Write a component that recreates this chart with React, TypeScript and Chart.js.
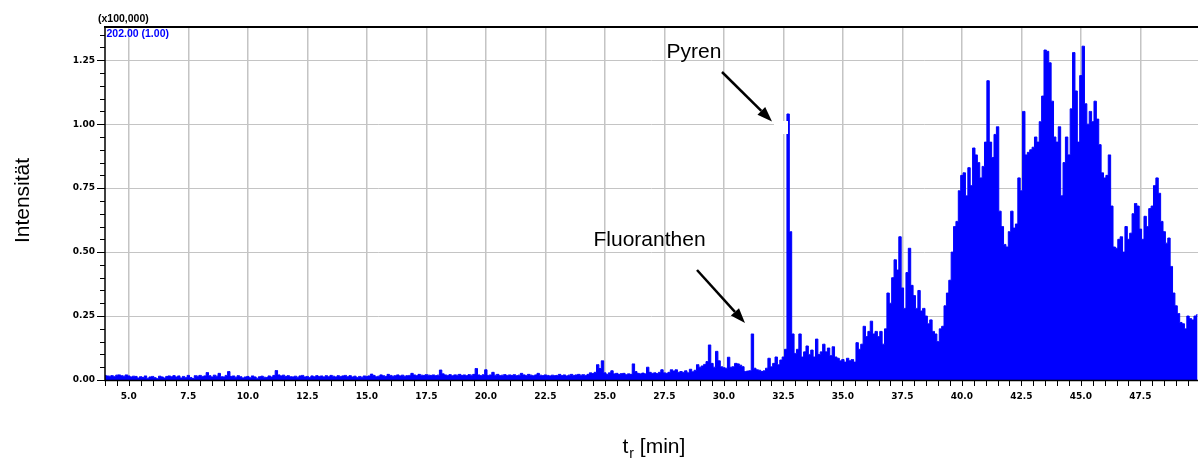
import React, { useEffect, useRef } from "react";
import { Chart, registerables } from "chart.js";

Chart.register(...registerables);

// ---- sampling of the trace (retention time in minutes) ----
const START_MIN = 4.0;
const STEP_MIN = 0.1;
const X_MIN = 4.0;
const X_MAX = 49.92;
const Y_MIN = 0;
const Y_MAX = 1.38;

// ---- intensities (x100,000), one row per minute, 0.1 min apart ----
const intensity04to09 = [
  0.018, 0.016, 0.015, 0.017, 0.014, 0.019, 0.020, 0.017, 0.015, 0.020,
  0.016, 0.012, 0.015, 0.014, 0.008, 0.013, 0.010, 0.016, 0.007, 0.012,
  0.014, 0.009, 0.006, 0.015, 0.012, 0.008, 0.014, 0.016, 0.013, 0.017,
  0.012, 0.016, 0.008, 0.014, 0.009, 0.018, 0.010, 0.006, 0.017, 0.015,
  0.018, 0.014, 0.016, 0.029, 0.017, 0.012, 0.019, 0.015, 0.026, 0.013,
  0.012, 0.018, 0.033, 0.014, 0.016, 0.011, 0.017, 0.013, 0.008, 0.012,
];
const intensity10to15 = [
  0.014, 0.009, 0.016, 0.012, 0.007, 0.013, 0.015, 0.011, 0.010, 0.016,
  0.012, 0.018, 0.037, 0.020, 0.016, 0.019, 0.014, 0.017, 0.013, 0.012,
  0.015, 0.011, 0.016, 0.018, 0.012, 0.014, 0.010, 0.016, 0.013, 0.017,
  0.014, 0.016, 0.012, 0.017, 0.013, 0.018, 0.015, 0.012, 0.017, 0.014,
  0.016, 0.018, 0.013, 0.017, 0.012, 0.015, 0.010, 0.014, 0.011, 0.016,
  0.014, 0.016, 0.023, 0.018, 0.013, 0.015, 0.020, 0.017, 0.014, 0.022,
];
const intensity16to21 = [
  0.018, 0.015, 0.017, 0.020, 0.016, 0.019, 0.015, 0.017, 0.018, 0.026,
  0.020, 0.017, 0.022, 0.019, 0.018, 0.021, 0.019, 0.018, 0.020, 0.017,
  0.019, 0.039, 0.024, 0.020, 0.018, 0.021, 0.017, 0.020, 0.019, 0.022,
  0.018, 0.020, 0.017, 0.021, 0.019, 0.022, 0.045, 0.020, 0.017, 0.021,
  0.040, 0.018, 0.020, 0.030, 0.019, 0.022, 0.017, 0.019, 0.021, 0.018,
  0.020, 0.018, 0.021, 0.017, 0.019, 0.026, 0.020, 0.018, 0.022, 0.019,
];
const intensity22to27 = [
  0.017, 0.020, 0.026, 0.019, 0.017, 0.020, 0.018, 0.016, 0.019, 0.017,
  0.018, 0.022, 0.017, 0.020, 0.016, 0.019, 0.022, 0.018, 0.020, 0.022,
  0.019, 0.021, 0.018, 0.022, 0.028, 0.025, 0.030, 0.060, 0.045, 0.075,
  0.028, 0.022, 0.028, 0.036, 0.024, 0.026, 0.022, 0.025, 0.026, 0.021,
  0.024, 0.022, 0.063, 0.033, 0.026, 0.024, 0.027, 0.024, 0.050, 0.030,
  0.026, 0.028, 0.025, 0.030, 0.040, 0.028, 0.026, 0.030, 0.040, 0.035,
];
const intensity28to33 = [
  0.040, 0.030, 0.033, 0.030, 0.036, 0.028, 0.042, 0.032, 0.038, 0.060,
  0.050, 0.055, 0.061, 0.072, 0.137, 0.065, 0.050, 0.112, 0.075, 0.052,
  0.048, 0.046, 0.089, 0.050, 0.052, 0.065, 0.063, 0.058, 0.052, 0.033,
  0.035, 0.036, 0.180, 0.046, 0.040, 0.038, 0.033, 0.036, 0.046, 0.085,
  0.052, 0.065, 0.090, 0.060, 0.078, 0.090, 0.120, 1.040, 0.580, 0.180,
  0.104, 0.120, 0.180, 0.090, 0.110, 0.133, 0.100, 0.117, 0.090, 0.160,
];
const intensity34to39 = [
  0.100, 0.110, 0.140, 0.110, 0.125, 0.095, 0.130, 0.090, 0.085, 0.075,
  0.080, 0.070, 0.085, 0.075, 0.080, 0.070, 0.146, 0.120, 0.140, 0.210,
  0.170, 0.190, 0.230, 0.180, 0.190, 0.170, 0.190, 0.140, 0.200, 0.340,
  0.300, 0.400, 0.470, 0.430, 0.560, 0.360, 0.280, 0.420, 0.515, 0.370,
  0.330, 0.280, 0.350, 0.270, 0.280, 0.250, 0.220, 0.235, 0.190, 0.180,
  0.150, 0.200, 0.210, 0.290, 0.340, 0.390, 0.500, 0.600, 0.620, 0.740,
];
const intensity40to45 = [
  0.800, 0.810, 0.720, 0.830, 0.760, 0.907, 0.880, 0.850, 0.790, 0.835,
  0.930, 1.170, 0.930, 0.870, 0.960, 0.990, 0.660, 0.600, 0.530, 0.520,
  0.580, 0.660, 0.594, 0.610, 0.790, 0.740, 1.050, 0.880, 0.890, 0.900,
  0.910, 0.950, 0.930, 1.010, 1.110, 1.290, 1.285, 1.240, 1.090, 0.950,
  0.930, 0.990, 0.720, 0.850, 0.950, 0.880, 1.060, 1.280, 1.130, 0.930,
  1.190, 1.305, 1.080, 1.000, 1.050, 1.010, 1.090, 1.020, 0.920, 0.810,
];
const intensity46to49 = [
  0.790, 0.800, 0.880, 0.680, 0.520, 0.515, 0.550, 0.560, 0.500, 0.600,
  0.550, 0.574, 0.650, 0.690, 0.680, 0.590, 0.550, 0.640, 0.600, 0.670,
  0.680, 0.760, 0.790, 0.730, 0.620, 0.580, 0.535, 0.555, 0.444, 0.340,
  0.290, 0.260, 0.225, 0.220, 0.200, 0.250, 0.240, 0.235, 0.250, 0.255,
];

// ---- axis ticks and labels ----
const X_TICKS = [5.0, 7.5, 10.0, 12.5, 15.0, 17.5, 20.0, 22.5, 25.0, 27.5, 30.0, 32.5, 35.0, 37.5, 40.0, 42.5, 45.0, 47.5];
const Y_TICKS = [0, 0.25, 0.5, 0.75, 1.0, 1.25];
const X_MINOR_STEP = 0.5;
const Y_MINOR_STEP = 0.05;

const X_TITLE_MAIN = "t";
const X_TITLE_SUB = "r";
const X_TITLE_REST = " [min]";
const Y_TITLE = "Intensität";
const SCALE_NOTE = "(x100,000)";
const TRACE_NOTE = "202.00 (1.00)";
const ANNOTATIONS = [
  { text: "Pyren", tx: 666.5, ty: 58, x1: 722, y1: 72, x2: 772, y2: 121.5 },
  { text: "Fluoranthen", tx: 593.5, ty: 246, x1: 697, y1: 270, x2: 745, y2: 323 },
];

const SANS = '"Liberation Sans", Arial, sans-serif';
const TICK_FONT = '"DejaVu Sans", Verdana, sans-serif';
const BLUE = "#0000ff";
const GRID = "#c4c4c4";

const allIntensity = [
  ...intensity04to09,
  ...intensity10to15,
  ...intensity16to21,
  ...intensity22to27,
  ...intensity28to33,
  ...intensity34to39,
  ...intensity40to45,
  ...intensity46to49,
];
const tracePoints = allIntensity.map((v, i) => ({
  x: Math.round((START_MIN + i * STEP_MIN) * 100) / 100,
  y: v,
}));

function drawArrow(ctx: CanvasRenderingContext2D, x1: number, y1: number, x2: number, y2: number) {
  const ang = Math.atan2(y2 - y1, x2 - x1);
  const headLen = 15;
  const headHalf = 5.5;
  const bx = x2 - headLen * Math.cos(ang);
  const by = y2 - headLen * Math.sin(ang);
  ctx.strokeStyle = "#000";
  ctx.fillStyle = "#000";
  ctx.lineWidth = 2.5;
  ctx.lineCap = "butt";
  ctx.beginPath();
  ctx.moveTo(x1, y1);
  ctx.lineTo(bx, by);
  ctx.stroke();
  ctx.beginPath();
  ctx.moveTo(x2, y2);
  ctx.lineTo(bx + headHalf * Math.sin(ang), by - headHalf * Math.cos(ang));
  ctx.lineTo(bx - headHalf * Math.sin(ang), by + headHalf * Math.cos(ang));
  ctx.closePath();
  ctx.fill();
}

const decorPlugin = {
  id: "chromDecor",
  afterDraw(chart: any) {
    const { ctx, chartArea: ca, scales } = chart;
    const xs = scales.x;
    const ys = scales.y;
    ctx.save();

    // white halo near the Pyren arrow tip
    ctx.fillStyle = "#ffffff";
    ctx.fillRect(774, 121, 14, 13);

    // axis lines
    ctx.strokeStyle = "#000";
    ctx.lineWidth = 2;
    ctx.beginPath();
    ctx.moveTo(ca.left - 1, ca.top);
    ctx.lineTo(ca.right, ca.top);
    ctx.stroke();
    ctx.lineWidth = 1.5;
    ctx.beginPath();
    ctx.moveTo(ca.left, ca.top);
    ctx.lineTo(ca.left, ca.bottom + 0.5);
    ctx.lineTo(ca.right, ca.bottom + 0.5);
    ctx.stroke();

    // tick marks
    ctx.lineWidth = 1;
    ctx.beginPath();
    for (let t = X_MIN; t <= X_MAX + 1e-6; t += X_MINOR_STEP) {
      const px = Math.round(xs.getPixelForValue(t)) + 0.5;
      ctx.moveTo(px, ca.bottom);
      ctx.lineTo(px, ca.bottom + 6);
    }
    for (let k = 0; k * Y_MINOR_STEP <= Y_MAX + 1e-6; k++) {
      const v = k * Y_MINOR_STEP;
      const py = Math.round(ys.getPixelForValue(v)) + 0.5;
      const len = k % 5 === 0 ? 8 : 5;
      ctx.moveTo(ca.left, py);
      ctx.lineTo(ca.left - len, py);
    }
    ctx.stroke();

    // notes at the top-left
    ctx.fillStyle = "#000";
    ctx.font = `bold 10.5px ${SANS}`;
    ctx.textAlign = "left";
    ctx.textBaseline = "alphabetic";
    ctx.fillText(SCALE_NOTE, 98, 21.5);
    ctx.fillStyle = BLUE;
    ctx.font = `bold 10.5px ${SANS}`;
    ctx.fillText(TRACE_NOTE, 106.5, 37);

    // annotations
    ctx.fillStyle = "#000";
    ctx.font = `21px ${SANS}`;
    for (const a of ANNOTATIONS) {
      ctx.fillStyle = "#000";
      ctx.fillText(a.text, a.tx, a.ty);
      drawArrow(ctx, a.x1, a.y1, a.x2, a.y2);
    }

    // x title with subscript
    ctx.fillStyle = "#000";
    ctx.font = `21px ${SANS}`;
    let cx = 622.5;
    const base = 453;
    ctx.fillText(X_TITLE_MAIN, cx, base);
    cx += ctx.measureText(X_TITLE_MAIN).width + 1;
    ctx.font = `14px ${SANS}`;
    ctx.fillText(X_TITLE_SUB, cx, base + 5);
    cx += ctx.measureText(X_TITLE_SUB).width;
    ctx.font = `21px ${SANS}`;
    ctx.fillText(X_TITLE_REST, cx, base);

    // y title
    ctx.translate(28.5, 200.5);
    ctx.rotate(-Math.PI / 2);
    ctx.textAlign = "center";
    ctx.fillText(Y_TITLE, 0, 0);

    ctx.restore();
  },
};

export default function App() {
  const canvasRef = useRef<HTMLCanvasElement | null>(null);

  useEffect(() => {
    const canvas = canvasRef.current;
    if (!canvas) return;
    const chart = new Chart(canvas, {
      type: "line",
      data: {
        datasets: [
          {
            data: tracePoints,
            borderColor: BLUE,
            backgroundColor: BLUE,
            borderWidth: 1,
            pointRadius: 0,
            fill: "origin",
            stepped: "middle",
            tension: 0,
          } as any,
        ],
      },
      options: {
        responsive: false,
        animation: false,
        devicePixelRatio: 1,
        layout: { padding: { top: 27, left: 0, right: 0, bottom: 0 } },
        plugins: {
          legend: { display: false },
          tooltip: { enabled: false },
          title: { display: false },
        },
        scales: {
          x: {
            type: "linear",
            min: X_MIN,
            max: X_MAX,
            afterBuildTicks: (s: any) => {
              s.ticks = X_TICKS.map((v) => ({ value: v }));
            },
            afterFit: (s: any) => {
              s.height = 79;
            },
            grid: { color: GRID, lineWidth: 1.5, drawTicks: false },
            border: { display: false },
            ticks: {
              autoSkip: false,
              maxRotation: 0,
              minRotation: 0,
              padding: 11,
              color: "#000",
              font: { family: TICK_FONT, size: 9, weight: "bold" },
              callback: (v: any) => Number(v).toFixed(1),
            },
          },
          y: {
            type: "linear",
            min: Y_MIN,
            max: Y_MAX,
            afterBuildTicks: (s: any) => {
              s.ticks = Y_TICKS.map((v) => ({ value: v }));
            },
            afterFit: (s: any) => {
              s.width = 105;
            },
            grid: { color: GRID, lineWidth: 1, drawTicks: false },
            border: { display: false },
            ticks: {
              autoSkip: false,
              padding: 10,
              color: "#000",
              font: { family: TICK_FONT, size: 9, weight: "bold" },
              callback: (v: any) => Number(v).toFixed(2),
            },
          },
        },
      } as any,
      plugins: [decorPlugin],
    });
    return () => chart.destroy();
  }, []);

  return (
    <div style={{ position: "absolute", left: 0, top: 0, width: 1198, height: 459, background: "#fff" }}>
      <canvas ref={canvasRef} width={1198} height={459} style={{ display: "block" }} />
    </div>
  );
}
